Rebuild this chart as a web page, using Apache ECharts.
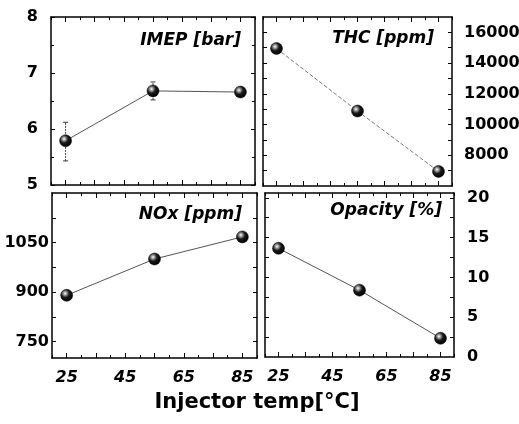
<!DOCTYPE html>
<html>
<head>
<meta charset="utf-8">
<script src="https://cdn.jsdelivr.net/npm/echarts@6/dist/echarts.min.js"></script>
<style>html,body{margin:0;padding:0;background:#fff;}#c{width:519px;height:424px;}</style>
</head>
<body>
<div id="c"></div>
<script>
// ---- data ----
const temps = [25, 55, 85];
const imep = [5.79, 6.68, 6.66];
const imepErrLow = [5.43, 6.52, 6.66];
const imepErrHigh = [6.12, 6.84, 6.66];
const thc = [14950, 10880, 6950];
const nox = [890, 1000, 1067];
const opacity = [13.65, 8.4, 2.35];
const xTickLabels = [25, 45, 65, 85];
const imepTickLabels = [5, 6, 7, 8];
const thcTickLabels = [8000, 10000, 12000, 14000, 16000];
const thcTicks = [7000, 8000, 9000, 10000, 11000, 12000, 13000, 14000, 15000, 16000];
const noxTickLabels = [750, 900, 1050];
const noxTicks = [750, 825, 900, 975, 1050, 1125];
const opacityTickLabels = [0, 5, 10, 15, 20];
const opacityTicks = [2.5, 5, 7.5, 10, 12.5, 15, 17.5, 20];
const panelTitles = ['IMEP [bar]', 'THC [ppm]', 'NOx [ppm]', 'Opacity [%]'];
const xTitle = 'Injector temp[\u00B0C]';

const FONT = '"DejaVu Sans", "Liberation Sans", Arial, sans-serif';
const grids = [
  {left: 51, top: 17, width: 204, height: 168},
  {left: 263, top: 17, width: 189, height: 169},
  {left: 52, top: 193, width: 205, height: 165},
  {left: 265, top: 193, width: 189, height: 164}
].map(g => Object.assign(g, {containLabel: false, outerBoundsMode: 'none'}));
const lineStyleAxis = {color: '#000', width: 1.5};
const plain = v => String(v);

function xAxisDef(g, position, showLabels) {
  return {
    type: 'value', gridIndex: g, position: position, min: 20, max: 90, interval: 10,
    axisLine: {show: true, onZero: false, lineStyle: lineStyleAxis},
    axisTick: {show: true, inside: true, length: 3, lineStyle: {color: '#000', width: 1}},
    minorTick: {show: true, splitNumber: 2, length: 5, lineStyle: {color: '#000', width: 1}},
    splitLine: {show: false}, minorSplitLine: {show: false},
    axisLabel: {show: showLabels, customValues: xTickLabels, margin: 12, formatter: plain,
      fontFamily: FONT, fontSize: 16, fontWeight: 'bold', fontStyle: 'italic', color: '#000'}
  };
}
function yAxisDef(g, position, min, max, labels, ticks, showLabels, margin, extra) {
  const ax = {
    type: 'value', gridIndex: g, position: position, min: min, max: max,
    axisLine: {show: true, onZero: false, lineStyle: lineStyleAxis},
    axisTick: {show: true, inside: true, length: 4, lineStyle: {color: '#000', width: 1}},
    splitLine: {show: false},
    axisLabel: {show: showLabels, customValues: labels, margin: margin, formatter: plain,
      fontFamily: FONT, fontSize: 16, fontWeight: 'bold', color: '#000'}
  };
  if (ticks) ax.axisTick.customValues = ticks;
  if (extra) Object.assign(ax, extra);
  return ax;
}
const tlExtra = {interval: 1, minorTick: {show: true, splitNumber: 2, length: 3, lineStyle: {color: '#000', width: 1}}};

const xAxes = [
  xAxisDef(0, 'bottom', false), xAxisDef(0, 'top', false),
  xAxisDef(1, 'bottom', false), xAxisDef(1, 'top', false),
  xAxisDef(2, 'bottom', true), xAxisDef(2, 'top', false),
  xAxisDef(3, 'bottom', true), xAxisDef(3, 'top', false)
];
const yAxes = [
  yAxisDef(0, 'left', 5, 8, imepTickLabels, null, true, 13, tlExtra),
  yAxisDef(0, 'right', 5, 8, imepTickLabels, null, false, 8, tlExtra),
  yAxisDef(1, 'right', 6000, 17000, thcTickLabels, thcTicks, true, 12),
  yAxisDef(1, 'left', 6000, 17000, thcTickLabels, thcTicks, false, 8),
  yAxisDef(2, 'left', 700, 1200, noxTickLabels, noxTicks, true, 3),
  yAxisDef(2, 'right', 700, 1200, noxTickLabels, noxTicks, false, 8),
  yAxisDef(3, 'right', 0, 20.6, opacityTickLabels, opacityTicks, true, 13),
  yAxisDef(3, 'left', 0, 20.6, opacityTickLabels, opacityTicks, false, 8)
];

const ball = {
  type: 'radial', x: 0.38, y: 0.35, r: 0.65,
  colorStops: [
    {offset: 0, color: '#ffffff'},
    {offset: 0.18, color: '#aaaaaa'},
    {offset: 0.5, color: '#1a1a1a'},
    {offset: 1, color: '#000000'}
  ]
};
function lineSeries(g, values, dashed) {
  return {
    type: 'line', xAxisIndex: 2 * g, yAxisIndex: 2 * g, z: 3,
    data: temps.map((t, i) => [t, values[i]]),
    symbol: 'circle', symbolSize: 12,
    itemStyle: {color: ball, borderColor: '#000', borderWidth: 0.5},
    lineStyle: {color: dashed ? '#777' : '#555', width: 1, type: dashed ? [4, 2] : 'solid'},
    emphasis: {disabled: true}
  };
}
const errSeries = {
  type: 'custom', xAxisIndex: 0, yAxisIndex: 0, z: 2,
  data: temps.map((t, i) => [t, imepErrLow[i], imepErrHigh[i]]),
  encode: {x: 0, y: [1, 2]},
  renderItem: function (params, api) {
    const x = api.value(0);
    const p1 = api.coord([x, api.value(1)]);
    const p2 = api.coord([x, api.value(2)]);
    const st = {stroke: '#333', lineWidth: 1};
    return {type: 'group', children: [
      {type: 'line', shape: {x1: p1[0], y1: p1[1], x2: p2[0], y2: p2[1]}, style: {stroke: '#444', lineWidth: 1, lineDash: [2, 1]}},
      {type: 'line', shape: {x1: p1[0] - 2.5, y1: p1[1], x2: p1[0] + 2.5, y2: p1[1]}, style: st},
      {type: 'line', shape: {x1: p2[0] - 2.5, y1: p2[1], x2: p2[0] + 2.5, y2: p2[1]}, style: st}
    ]};
  }
};

const titlePos = [[241, 41], [434, 39], [242, 215], [442, 211]];
const graphics = panelTitles.map((t, i) => ({
  type: 'text', x: titlePos[i][0], y: titlePos[i][1], z: 10,
  style: {text: t, align: 'right', verticalAlign: 'middle', fill: '#000',
    font: 'italic bold 17px ' + FONT}
}));
graphics.push({
  type: 'text', x: 257, y: 403, z: 10,
  style: {text: xTitle, align: 'center', verticalAlign: 'middle', fill: '#000',
    font: 'bold 21px ' + FONT}
});

const chart = echarts.init(document.getElementById('c'), null, {renderer: 'canvas'});
chart.setOption({
  animation: false,
  backgroundColor: '#fff',
  grid: grids,
  xAxis: xAxes,
  yAxis: yAxes,
  graphic: graphics,
  series: [
    errSeries,
    lineSeries(0, imep, false),
    lineSeries(1, thc, true),
    lineSeries(2, nox, false),
    lineSeries(3, opacity, false)
  ]
});
</script>
</body>
</html>
